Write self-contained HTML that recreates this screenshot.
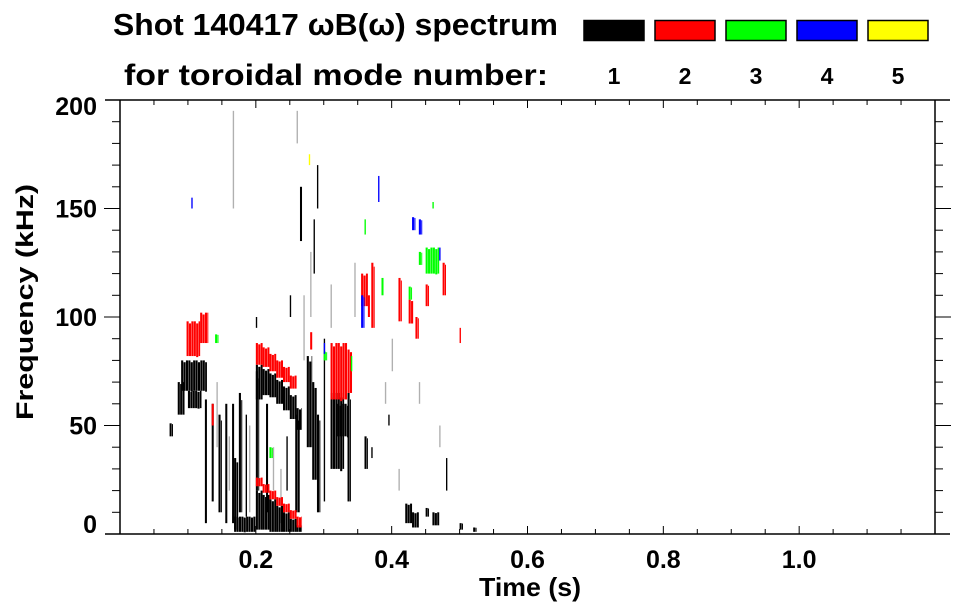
<!DOCTYPE html>
<html><head><meta charset="utf-8">
<style>
html,body{margin:0;padding:0;background:#fff;}
svg{display:block;font-family:"Liberation Sans",sans-serif;font-weight:bold;}
</style></head>
<body>
<svg id="chart" width="963" height="615" viewBox="0 0 963 615">
  <text x="113" y="35" font-size="31" textLength="445" lengthAdjust="spacingAndGlyphs">Shot 140417 ωB(ω) spectrum</text>
  <text x="124" y="85" font-size="30" textLength="424" lengthAdjust="spacingAndGlyphs">for toroidal mode number:</text>
  <g id="legend"></g>
  <g id="marks"></g>
  <g id="axes"></g>
  <text x="479" y="596" font-size="26" textLength="102" lengthAdjust="spacingAndGlyphs">Time (s)</text>
  <text transform="translate(33,420) rotate(-90)" font-size="24" textLength="236" lengthAdjust="spacingAndGlyphs">Frequency (kHz)</text>
</svg>
<script>
// ---- data ----
const modeLabels = ["1","2","3","4","5"];
const modeColors = ["#000000","#ff0000","#00ff00","#0000ff","#ffff00"];
const xTickValues = [0.2,0.4,0.6,0.8,1.0];
const xTickLabels = ["0.2","0.4","0.6","0.8","1.0"];
const yTickValues = [0,50,100,150,200];
const yTickLabels = ["0","50","100","150","200"];
// each entry: [tStart, tEnd, fLow, fHigh]
const mode1 = [
 [0.09,0.128,66,80],[0.085,0.095,55,70],[0.10,0.12,58,66],[0.073,0.078,45,51],
 [0.125,0.128,5,62],[0.135,0.138,15,60],[0.145,0.15,10,55],[0.155,0.158,5,60],
 [0.165,0.168,5,60],[0.175,0.18,10,65],[0.185,0.187,8,55],
 [0.168,0.2,1,8],[0.168,0.174,2,35],
 [0.2,0.21,2,20],[0.21,0.22,2,18],[0.22,0.23,1,16],[0.23,0.24,1,13],[0.24,0.25,1,10],[0.25,0.26,1,7],[0.26,0.268,1,4],
 [0.2,0.21,62,78],[0.21,0.22,64,76],[0.22,0.23,63,74],[0.23,0.24,60,71],[0.24,0.25,57,68],[0.25,0.26,53,64],[0.26,0.268,48,58],
 [0.2,0.205,20,75],[0.215,0.218,10,60],[0.258,0.265,10,55],[0.245,0.247,20,45],
 [0.275,0.283,40,82],[0.283,0.29,25,70],[0.29,0.295,10,55],
 [0.31,0.33,30,65],[0.32,0.335,45,60],[0.335,0.34,15,65],[0.3,0.302,15,90],
 [0.36,0.365,30,45],[0.37,0.372,35,40],[0.395,0.397,50,55],[0.42,0.43,5,14],[0.43,0.44,3,10],
 [0.45,0.455,8,12],[0.46,0.47,4,10],[0.48,0.482,20,35],[0.5,0.505,2,5],[0.52,0.525,1,3],
 [0.29,0.292,150,170],[0.285,0.287,120,145],[0.265,0.268,135,160],[0.25,0.252,100,110],[0.2,0.202,95,100]
];
const mode2 = [
 [0.2,0.21,78,88],[0.21,0.22,77,86],[0.22,0.23,75,83],[0.23,0.24,72,80],[0.24,0.25,70,77],[0.25,0.26,67,73],
 [0.2,0.21,22,26],[0.21,0.22,19,23],[0.22,0.23,16,20],[0.23,0.24,13,17],[0.24,0.25,10,14],[0.25,0.26,7,11],[0.26,0.268,3,8],
 [0.098,0.118,82,98],[0.118,0.13,88,102],[0.31,0.335,62,88],[0.335,0.342,65,85],
 [0.355,0.365,105,120],[0.365,0.368,100,110],[0.37,0.375,95,125],[0.41,0.415,98,118],
 [0.425,0.432,97,108],[0.435,0.44,90,100],[0.45,0.455,105,115],[0.475,0.48,110,125],
 [0.5,0.502,88,95],[0.28,0.283,85,93],[0.135,0.138,50,60]
];
const mode3 = [
 [0.45,0.47,120,132],[0.44,0.445,124,130],[0.425,0.43,108,114],[0.385,0.388,110,118],
 [0.3,0.305,80,84],[0.34,0.342,75,82],[0.22,0.225,35,40],[0.14,0.145,88,92],[0.36,0.362,138,145],[0.46,0.462,150,153]
];
const mode4 = [
 [0.43,0.435,140,146],[0.44,0.445,138,145],[0.355,0.36,95,110],[0.3,0.302,83,88],
 [0.47,0.472,126,132],[0.38,0.382,153,165],[0.105,0.107,150,155]
];
const mode5 = [[0.278,0.28,170,175]];
// faint (low-amplitude) streaks, drawn grey
const faint = [
 [0.142,0.144,40,70],[0.16,0.162,20,45],[0.19,0.192,10,50],[0.225,0.227,20,40],
 [0.236,0.238,5,30],[0.27,0.272,80,110],[0.28,0.282,100,130],[0.31,0.312,95,115],
 [0.345,0.347,100,125],[0.39,0.392,60,70],[0.4,0.402,75,90],[0.41,0.412,20,30],
 [0.166,0.168,150,195],[0.26,0.262,180,195],[0.44,0.442,60,70],[0.47,0.472,40,50]
];
const modes = [mode1,mode2,mode3,mode4,mode5];

// ---- scales ----
const X0=120, X1=935, Y0=534, Y1=100, TMAX=1.2, FMAX=200;
const xs = t => X0 + t/TMAX*(X1-X0);
const ys = f => Y0 - f/FMAX*(Y0-Y1);
const NS="http://www.w3.org/2000/svg";
function mk(tag, attrs, parent){const e=document.createElementNS(NS,tag);for(const k in attrs)e.setAttribute(k,attrs[k]);parent.appendChild(e);return e;}

// ---- marks (drawn as thin vertical strips for a streaky look) ----
const marks=document.getElementById('marks');
function drawPatch(d,color,g,name){
  const x=xs(d[0]), w=Math.max(1.2,xs(d[1])-xs(d[0]));
  const y=ys(d[3]), h=Math.max(1.2,ys(d[2])-ys(d[3]));
  if(w<=3){
    const r=mk('rect',{x:x,y:y,width:w,height:h,fill:color},g);
    
    
    return;
  }
  const grp=mk('g',{},g);
  
  
  let k=0;
  for(let sx=x; sx<x+w-0.5; sx+=2.4){
    const jitter=(k%3===1)?h*0.06:0;
    mk('rect',{x:sx,y:y+jitter,width:Math.min(2.1,x+w-sx),height:h-jitter*(k%2?1:0.5),fill:color},grp);
    k++;
  }
}
const fg=mk('g',{},marks);


faint.forEach(d=>drawPatch(d,'#b0b0b0',fg,'faint-streak'));
modes.forEach((m,i)=>{
  const g=mk('g',{},marks);
  
  
  m.forEach(d=>drawPatch(d,modeColors[i],g,'mode-'+modeLabels[i]+'-patch'));
});

// ---- legend ----
const leg=document.getElementById('legend');
modeLabels.forEach((l,i)=>{
  const bx=584+i*71;
  const r=mk('rect',{x:bx,y:20.5,width:60,height:20,fill:modeColors[i],stroke:'#000','stroke-width':1.5},leg);
  
  
  const t=mk('text',{x:bx+30,y:84,'font-size':23,'text-anchor':'middle'},leg);
  t.textContent=l;
  
  
});

// ---- axes ----
const ax=document.getElementById('axes');
const st={stroke:'#000','stroke-width':1.5};
mk('line',Object.assign({x1:105,y1:Y0,x2:950,y2:Y0},st),ax);
mk('line',Object.assign({x1:105,y1:Y1,x2:950,y2:Y1},st),ax);
mk('line',Object.assign({x1:X0,y1:Y1,x2:X0,y2:Y0},st),ax);
mk('line',Object.assign({x1:X1,y1:Y1,x2:X1,y2:Y0},st),ax);
for(let k=1;k<24;k++){
  const t=k*0.05, x=xs(t), major=(k%4===0);
  const L=major?8:5;
  mk('line',{x1:x,y1:Y0,x2:x,y2:Y0-L,stroke:'#000','stroke-width':1},ax);
  mk('line',{x1:x,y1:Y1,x2:x,y2:Y1+L,stroke:'#000','stroke-width':1},ax);
}
for(let k=1;k<20;k++){
  const y=ys(k*10), major=(k%5===0);
  const L=major?16:8;
  mk('line',{x1:X0,y1:y,x2:X0-L,y2:y,stroke:'#000','stroke-width':1},ax);
  mk('line',{x1:X1,y1:y,x2:X1+L,y2:y,stroke:'#000','stroke-width':1},ax);
}
xTickValues.forEach((v,i)=>{
  const t=mk('text',{x:xs(v),y:568,'font-size':25,'text-anchor':'middle'},ax);
  t.textContent=xTickLabels[i];
  
  
});
yTickValues.forEach((v,i)=>{
  let y=ys(v)+9; if(v===0) y=ys(v)-1; if(v===200) y=ys(v)+15;
  const t=mk('text',{x:97,y:y,'font-size':25,'text-anchor':'end'},ax);
  t.textContent=yTickLabels[i];
  
  
});
</script>
</body></html>
